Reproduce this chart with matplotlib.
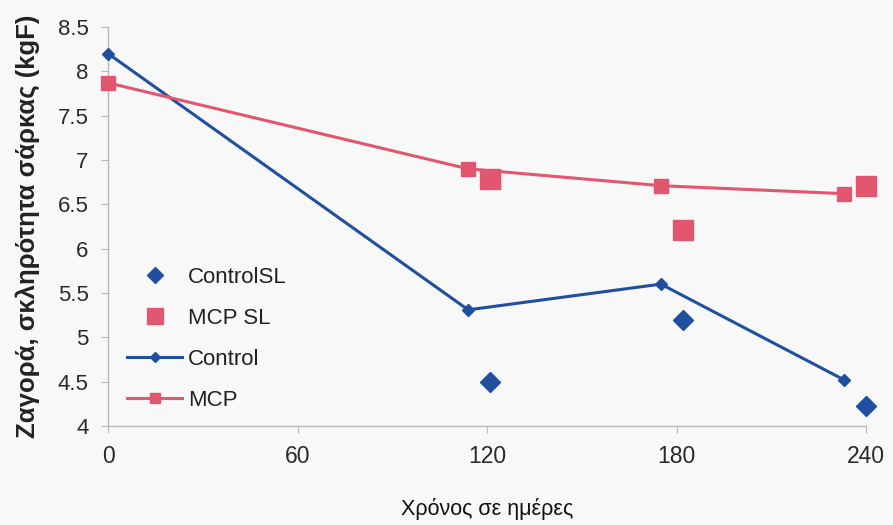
import matplotlib
matplotlib.use("Agg")
import matplotlib.pyplot as plt

# Data
days_line = [0, 114, 175, 233]
control = [8.20, 5.31, 5.60, 4.52]
mcp = [7.87, 6.90, 6.71, 6.62]

days_sl = [121, 182, 240]
control_sl = [4.50, 5.20, 4.22]
mcp_sl = [6.78, 6.21, 6.71]

xticks = [0, 60, 120, 180, 240]
yticks = [4, 4.5, 5, 5.5, 6, 6.5, 7, 7.5, 8, 8.5]

blue = "#1f4f9e"
pink = "#e2566f"
bg = "#f8f8f8"

fig = plt.figure(figsize=(8.93, 5.25), dpi=100, facecolor=bg)
ax = fig.add_axes([0.121, 0.1886, 0.849, 0.76])
ax.set_facecolor(bg)

ax.plot(days_sl, control_sl, linestyle="none", marker="D", markersize=10.5,
        color=blue, label="ControlSL", clip_on=False, zorder=3)
ax.plot(days_sl, mcp_sl, linestyle="none", marker="s", markersize=15,
        color=pink, label="MCP SL", clip_on=False, zorder=3)
ax.plot(days_line, control, color=blue, lw=2.2, marker="D", markersize=6.5,
        label="Control", clip_on=False, zorder=4)
ax.plot(days_line, mcp, color=pink, lw=2.2, marker="s", markersize=9.5,
        label="MCP", clip_on=False, zorder=4)

ax.set_xlim(0, 240)
ax.set_ylim(4, 8.5)
ax.set_xticks(xticks)
ax.set_xticklabels([str(v) for v in xticks], family="Liberation Sans", fontsize=16.5)
ax.set_yticks(yticks)
ax.set_yticklabels([f"{v:g}" for v in yticks], family="Liberation Sans", fontsize=16)

for s in ["top", "right"]:
    ax.spines[s].set_visible(False)
for s in ["left", "bottom"]:
    ax.spines[s].set_color("#b8b8b8")
    ax.spines[s].set_linewidth(1.0)
ax.tick_params(axis="both", colors="#b8b8b8", labelcolor="#2a2a2a", length=5)
ax.tick_params(axis="x", pad=9)
ax.tick_params(axis="y", pad=9)

ax.set_ylabel("Ζαγορά, σκληρότητα σάρκας (kgF)", family="Liberation Sans",
              fontsize=18.5, fontweight="bold", labelpad=13, color="#222222")
ax.set_xlabel("Χρόνος σε ημέρες", family="Liberation Sans",
              fontsize=15.5, labelpad=21, color="#111111")

leg = ax.legend(loc="center left", bbox_to_anchor=(0.013, 0.218), frameon=False,
                prop={"family": "Liberation Sans", "size": 16},
                handlelength=2.5, handletextpad=0.25, labelspacing=0.9,
                borderaxespad=0.0, markerscale=0.8)
for t in leg.get_texts():
    t.set_color("#222222")

fig.savefig("out.png", dpi=100, facecolor=bg)
